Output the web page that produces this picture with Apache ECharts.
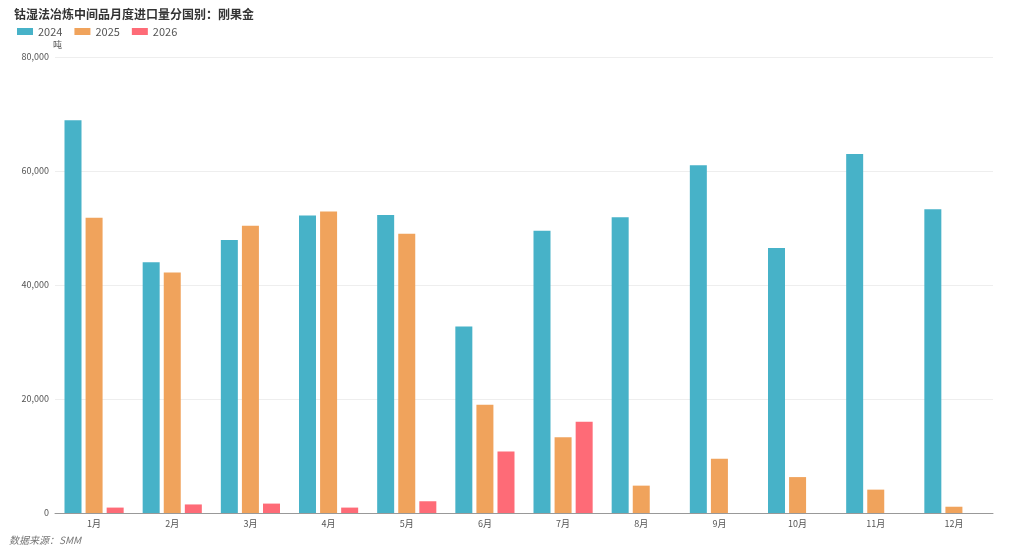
<!DOCTYPE html>
<html><head><meta charset="utf-8">
<script src="https://cdn.jsdelivr.net/npm/echarts@6/dist/echarts.min.js"></script>
<style>html,body{margin:0;padding:0;background:#fff}#c{width:1024px;height:553px}</style>
</head><body><div id="c"></div>
<script>
const categories = ['1月','2月','3月','4月','5月','6月','7月','8月','9月','10月','11月','12月'];
const s2024 = [68900,44000,47900,52200,52300,32700,49500,51900,61000,46500,63000,53300];
const s2025 = [51800,42200,50400,52900,49000,19000,13300,4800,9500,6300,4100,1100];
const s2026 = [950,1500,1650,950,2060,10800,16000,null,null,null,null,null];
const yTicks = [0,20000,40000,60000,80000];

const chart = echarts.init(document.getElementById('c'));
const font = '"Microsoft YaHei","Noto Sans CJK SC",sans-serif';
chart.setOption({
  animation:false,
  textStyle:{fontFamily:font},
  title:{text:'钴湿法冶炼中间品月度进口量分国别：刚果金',left:9,top:3,
    textStyle:{fontSize:12,fontWeight:'bold',color:'#333',fontFamily:font}},
  legend:{left:12,top:21,itemWidth:16,itemHeight:7,itemGap:12,icon:'rect',
    textStyle:{fontSize:11,color:'#555',fontFamily:font},data:['2024','2025','2026']},
  graphic:[{type:'text',left:9,top:535,style:{text:'数据来源：SMM',fill:'#777',fontSize:10,fontStyle:'italic',fontFamily:font}}],
  grid:{left:55,right:31,top:57,bottom:40,containLabel:false},
  xAxis:{type:'category',data:categories,
    axisLine:{lineStyle:{color:'#999'}},axisTick:{show:false},
    axisLabel:{fontSize:9,color:'#555',margin:6}},
  yAxis:{type:'value',name:'吨',min:yTicks[0],max:yTicks[yTicks.length-1],interval:20000,
    nameTextStyle:{fontSize:9,color:'#555',align:'left',padding:[0,0,0,-2]},nameGap:8,
    axisLine:{show:false},axisTick:{show:false},
    axisLabel:{fontSize:9,color:'#555',margin:6,formatter:v=>v.toLocaleString('en-US')},
    splitLine:{lineStyle:{color:'#eee'}}},
  series:[
    {name:'2024',type:'bar',data:s2024,barWidth:17,barGap:'24%',itemStyle:{color:'#47b2c8'}},
    {name:'2025',type:'bar',data:s2025,barWidth:17,barGap:'24%',itemStyle:{color:'#f0a35c'}},
    {name:'2026',type:'bar',data:s2026,barWidth:17,barGap:'24%',itemStyle:{color:'#fe6b77'}}
  ]
});
</script></body></html>
